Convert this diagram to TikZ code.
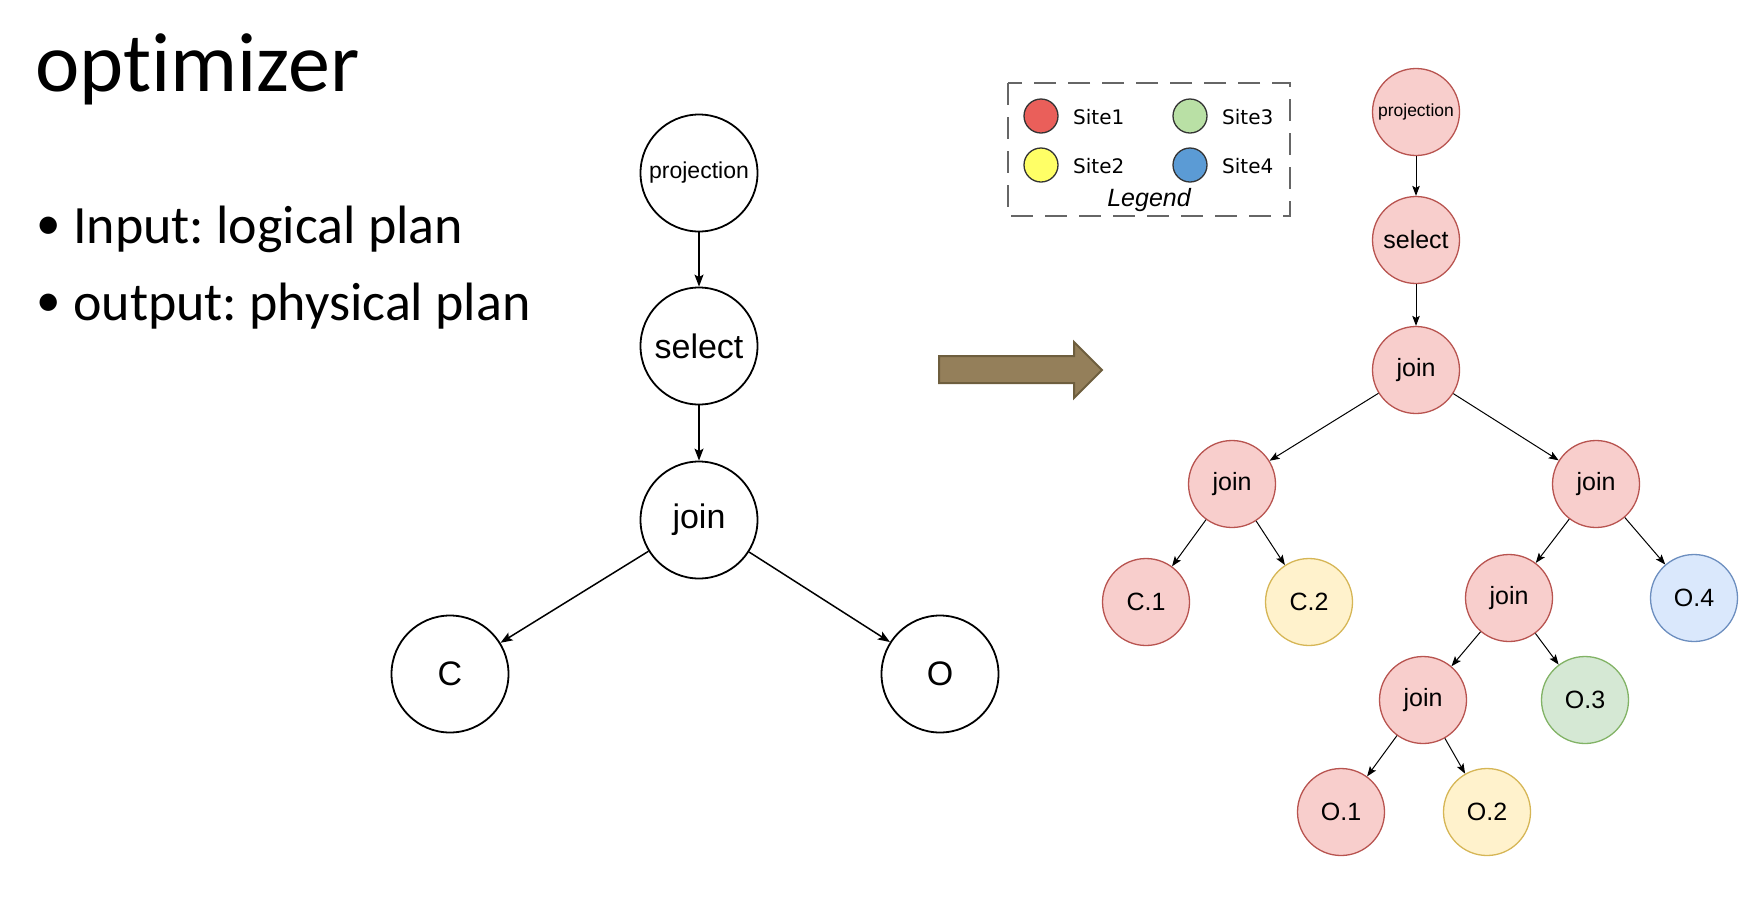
\documentclass[tikz,border=0pt]{standalone}
\usepackage{fontspec}
\setmainfont{Carlito}[Ligatures={NoCommon,NoContextual,NoRequired}]
\newfontfamily\arialfont{Liberation Sans}
\newfontfamily\sitefont{DejaVu Sans}
\usetikzlibrary{arrows.meta}
\frenchspacing

\definecolor{redfill}{HTML}{F8CECC}
\definecolor{redline}{HTML}{B85450}
\definecolor{yellowfill}{HTML}{FFF2CC}
\definecolor{yellowline}{HTML}{D6B656}
\definecolor{greenfill}{HTML}{D5E8D4}
\definecolor{greenline}{HTML}{82B366}
\definecolor{bluefill}{HTML}{DAE8FC}
\definecolor{blueline}{HTML}{6C8EBF}
\definecolor{site1}{HTML}{EA5F5A}
\definecolor{site2}{HTML}{FFFF66}
\definecolor{site3}{HTML}{B9E0A5}
\definecolor{site4}{HTML}{5B9BD5}
\definecolor{arrowfill}{RGB}{148,127,90}
\definecolor{arrowline}{RGB}{110,94,62}

\tikzset{
  plain/.style={circle,draw,line width=1.8pt,minimum size=117pt,inner sep=0pt,
    font=\arialfont\fontsize{34}{40}\selectfont},
  site/.style={circle,draw=#1line,fill=#1fill,line width=1.3pt,minimum size=87pt,
    inner sep=0pt,font=\arialfont\fontsize{25}{30}\selectfont},
  dot/.style={circle,draw=black!80,fill=#1,line width=1.3pt,minimum size=34pt,inner sep=0pt},
  sitelabel/.style={anchor=base west,inner sep=0pt,font=\sitefont\fontsize{20}{24}\selectfont},
  plainarrow/.style={-{Stealth[length=12pt,width=9pt,inset=2.5pt]},line width=1.5pt},
  sitearrow/.style={-{Stealth[length=10pt,width=7.5pt,inset=2pt]},line width=1pt}
}

\begin{document}
\begin{tikzpicture}[x=1pt,y=-1pt]
  \useasboundingbox (0,0) rectangle (1748,922);

  \node[anchor=base west,inner sep=0pt,font=\fontsize{84}{90}\selectfont] (title) at (35,91) {optimizer};
  \node[anchor=base west,inner sep=0pt,font=\fontsize{49}{54}\selectfont] (bullet1) at (36,239) {•};
  \node[anchor=base west,inner sep=0pt,font=\fontsize{54}{60}\selectfont] (input) at (73,243) {Input: logical plan};
  \node[anchor=base west,inner sep=0pt,font=\fontsize{49}{54}\selectfont] (bullet2) at (36,316) {•};
  \node[anchor=base west,inner sep=0pt,font=\fontsize{54}{60}\selectfont] (output) at (73,320) {output: physical plan};

  \node[plain,font=\arialfont\fontsize{23}{28}\selectfont] (lproj) at (699,173) {projection};
  \node[plain] (lselect) at (699,346) {select};
  \node[plain] (ljoin) at (699,520) {join};
  \node[plain] (lc) at (450,674) {C};
  \node[plain] (lo) at (940,674) {O};

  \draw[plainarrow] (lproj) -- (lselect);
  \draw[plainarrow] (lselect) -- (ljoin);
  \draw[plainarrow] (ljoin) -- (lc);
  \draw[plainarrow] (ljoin) -- (lo);

  \draw[draw=arrowline,fill=arrowfill,line width=2pt] (939,356) -- (1074,356) -- (1074,342)
    -- (1102,370) -- (1074,398) -- (1074,383) -- (939,383) -- cycle;

  \draw[draw=black!60,line width=2.5pt,dash pattern=on 22pt off 12pt] (1008,83) rectangle (1290,216);
  \node[dot=site1] (site1) at (1041,116) {};
  \node[dot=site2] (site2) at (1041,165) {};
  \node[dot=site3] (site3) at (1190,116) {};
  \node[dot=site4] (site4) at (1190,165) {};
  \node[sitelabel] (site1label) at (1073,124) {Site1};
  \node[sitelabel] (site2label) at (1073,173) {Site2};
  \node[sitelabel] (site3label) at (1222,124) {Site3};
  \node[sitelabel] (site4label) at (1222,173) {Site4};
  \node[anchor=base,inner sep=0pt,font=\arialfont\itshape\fontsize{25}{30}\selectfont] (legend) at (1149,206) {Legend};

  \node[site=red,font=\arialfont\fontsize{17.5}{21}\selectfont] (rproj) at (1416,112) {projection};
  \node[site=red] (rselect) at (1416,240) {select};
  \node[site=red] (rjoin) at (1416,370) {join};
  \node[site=red] (cjoin) at (1232,484) {join};
  \node[site=red] (ojoin) at (1596,484) {join};
  \node[site=red] (c1) at (1146,602) {C.1};
  \node[site=yellow] (c2) at (1309,602) {C.2};
  \node[site=red] (ojoinb) at (1509,598) {join};
  \node[site=blue] (o4) at (1694,598) {O.4};
  \node[site=red] (ojoinc) at (1423,700) {join};
  \node[site=green] (o3) at (1585,700) {O.3};
  \node[site=red] (o1) at (1341,812) {O.1};
  \node[site=yellow] (o2) at (1487,812) {O.2};

  \draw[sitearrow] (rproj) -- (rselect);
  \draw[sitearrow] (rselect) -- (rjoin);
  \draw[sitearrow] (rjoin) -- (cjoin);
  \draw[sitearrow] (rjoin) -- (ojoin);
  \draw[sitearrow] (cjoin) -- (c1);
  \draw[sitearrow] (cjoin) -- (c2);
  \draw[sitearrow] (ojoin) -- (ojoinb);
  \draw[sitearrow] (ojoin) -- (o4);
  \draw[sitearrow] (ojoinb) -- (ojoinc);
  \draw[sitearrow] (ojoinb) -- (o3);
  \draw[sitearrow] (ojoinc) -- (o1);
  \draw[sitearrow] (ojoinc) -- (o2);
\end{tikzpicture}
\end{document}
